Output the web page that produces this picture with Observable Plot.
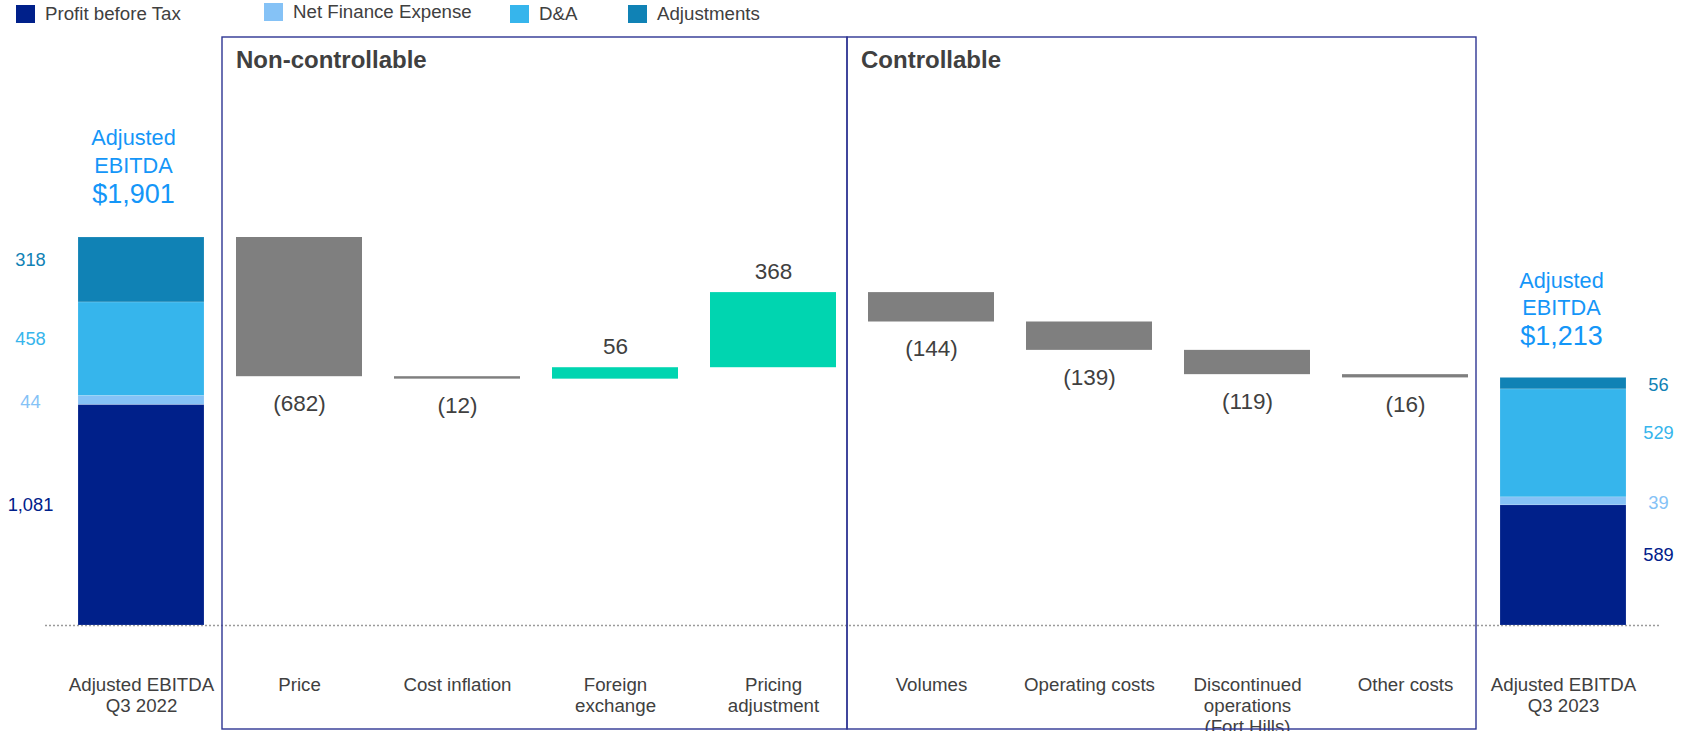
<!DOCTYPE html>
<html><head><meta charset="utf-8">
<script src="https://cdn.jsdelivr.net/npm/d3@7"></script>
<script src="https://cdn.jsdelivr.net/npm/@observablehq/plot@0.6"></script>
<style>
body{margin:0;background:#fff;font-family:"Liberation Sans",Arial,sans-serif;}
#legend{position:relative;height:28px;width:1689px;}
.li{position:absolute;top:0;height:28px;display:flex;align-items:center;font-size:18.7px;color:#404040;white-space:nowrap;}
.sw{width:19px;height:18px;margin-right:10px;}
#chart svg{display:block;}
</style></head><body>
<div id="legend"></div>
<div id="chart"></div>
<script>
// ---- data ----
const components = ["Profit before Tax", "Net Finance Expense", "D&A", "Adjustments"];
const componentColors = ["#00208a", "#85c2f6", "#36b5ec", "#1082b5"];
const startLabel = "Adjusted EBITDA\nQ3 2022";
const endLabel = "Adjusted EBITDA\nQ3 2023";
const startValues = [1081, 44, 458, 318];
const endValues = [589, 39, 529, 56];
const stepCategories = ["Price", "Cost inflation", "Foreign\nexchange", "Pricing\nadjustment",
  "Volumes", "Operating costs", "Discontinued\noperations\n(Fort Hills)", "Other costs"];
const stepValues = [-682, -12, 56, 368, -144, -139, -119, -16];
const groupNames = ["Non-controllable", "Controllable"];
const groupFirst = ["Price", "Volumes"];
const groupLast = ["Pricing\nadjustment", "Other costs"];
const titleText = "Adjusted\nEBITDA";

// ---- legend ----
const legendLeft = [16, 264, 510, 628];
const legendTop = [0, -2, 0, 0];
const legend = document.getElementById("legend");
components.forEach((c, i) => {
  const d = document.createElement("div");
  d.className = "li";
  d.style.left = legendLeft[i] + "px";
  d.style.top = legendTop[i] + "px";
  d.innerHTML = `<span class="sw" style="background:${componentColors[i]}"></span><span>${c.replace("&", "&amp;")}</span>`;
  legend.appendChild(d);
});

// ---- derived tables ----
const categories = [startLabel, ...stepCategories, endLabel];
const total0 = d3.sum(startValues);
const total1 = d3.sum(endValues);
const stacked = [
  ...components.map((c, i) => ({cat: startLabel, comp: c, value: startValues[i], side: "left"})),
  ...components.map((c, i) => ({cat: endLabel, comp: c, value: endValues[i], side: "right"}))
];
let run = total0;
const steps = stepCategories.map((c, i) => {
  const y1 = run; run += stepValues[i];
  return {cat: c, y1, y2: run, v: stepValues[i]};
});
const fmt = d3.format(",");
const stepLabel = v => v < 0 ? `(${fmt(-v)})` : fmt(v);
const totals = [{cat: startLabel, v: total0}, {cat: endLabel, v: total1}];
const blue = "#1496f8";
const textGray = "#404040";
const thin = 60;

function segLabels(side, dx, dy, small) {
  return Plot.text(stacked.filter(d => d.side === side), Plot.stackY({
    x: "cat", y: "value",
    text: d => (small ? d.value < thin : d.value >= thin) ? fmt(d.value) : "",
    fill: "comp", dx, dy, fontSize: 18.3
  }));
}

const plot = Plot.plot({
  width: 1689, height: 703,
  marginLeft: 45, marginRight: 30, marginTop: 209, marginBottom: 106,
  style: {fontFamily: "Liberation Sans, Arial, sans-serif", background: "transparent", color: textGray, overflow: "visible"},
  x: {domain: categories, padding: 0.2},
  y: {domain: [0, total0], axis: null},
  color: {domain: components, range: componentColors},
  marks: [
    Plot.ruleY([0], {stroke: "#9a9a9a", strokeWidth: 1.5, strokeDasharray: "2,2"}),
    Plot.barY(stacked, {x: "cat", y: "value", fill: "comp", stroke: "#ffffff", strokeOpacity: 0.25, strokeWidth: 0.6}),
    Plot.barY(steps.filter(d => d.v < 0), {x: "cat", y1: "y1", y2: "y2", fill: "#7f7f7f"}),
    Plot.barY(steps.filter(d => d.v >= 0), {x: "cat", y1: "y1", y2: "y2", fill: "#00d5b0"}),
    Plot.text(steps.filter(d => d.v < 0), {x: "cat", y: "y2", text: d => stepLabel(d.v), dy: 27, fontSize: 22.5, fill: textGray}),
    Plot.text(steps.filter(d => d.v >= 0), {x: "cat", y: "y2", text: d => stepLabel(d.v), dy: -21, fontSize: 22.5, fill: textGray}),
    segLabels("left", -111, -10, false),
    segLabels("left", -111, 2, true),
    segLabels("right", 95, -10, false),
    segLabels("right", 95, 2, true),
    Plot.text(totals.slice(0, 1), {x: "cat", y: "v", text: () => titleText, lineAnchor: "bottom", lineHeight: 1.25, dy: -65, dx: -8, fontSize: 21.7, fill: blue}),
    Plot.text(totals.slice(0, 1), {x: "cat", y: "v", text: d => "$" + fmt(d.v), lineAnchor: "bottom", dy: -35, dx: -8, fontSize: 27, fill: blue}),
    Plot.text(totals.slice(1), {x: "cat", y: "v", text: () => titleText, lineAnchor: "bottom", lineHeight: 1.25, dy: -63, dx: -2, fontSize: 21.7, fill: blue}),
    Plot.text(totals.slice(1), {x: "cat", y: "v", text: d => "$" + fmt(d.v), lineAnchor: "bottom", dy: -33, dx: -2, fontSize: 27, fill: blue}),
    Plot.axisX({tickSize: 0, tickPadding: 50, fontSize: 18.7, lineHeight: 1.13, label: null})
  ]
});
document.getElementById("chart").appendChild(plot);

// ---- group boxes, positioned from the library's x scale ----
const xs = plot.scale("x");
const bw = xs.bandwidth;
const b0 = xs.apply(groupFirst[0]) - 14;
const b1 = xs.apply(groupLast[0]) + bw + 11;
const b2 = xs.apply(groupLast[1]) + bw + 8;
const edges = [[b0, b1], [b1, b2]];
const svg = d3.select(plot);
const g = svg.append("g").attr("text-anchor", "start");
edges.forEach(([l, r], i) => {
  g.append("rect").attr("x", l).attr("y", 9).attr("width", r - l).attr("height", 692)
    .attr("fill", "none").attr("stroke", "#2e3593").attr("stroke-width", 1.4);
  g.append("text").attr("x", l + 14).attr("y", 40).text(groupNames[i])
    .attr("text-anchor", "start")
    .attr("font-size", 24).attr("font-weight", "bold").attr("fill", textGray)
    .attr("font-family", "Liberation Sans, Arial, sans-serif");
});
</script>
</body></html>
